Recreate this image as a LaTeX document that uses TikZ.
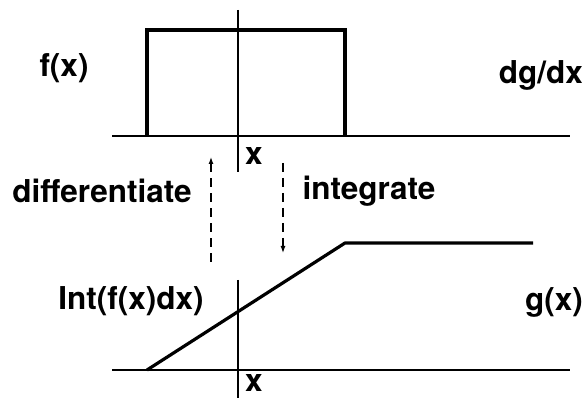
\documentclass[tikz,border=0pt]{standalone}
\usepackage{fontspec}
\setmainfont{TeX Gyre Heros}
\usetikzlibrary{arrows.meta}
\tikzset{
  lbl/.style={inner sep=0.75pt, font=\fontsize{31.5}{34}\selectfont\bfseries},
  axisline/.style={line width=1.6},
  curveline/.style={line width=3.2},
  flowarrow/.style={line width=1.2, dash pattern=on 9 off 6, -{Latex[length=7,width=5]}}
}
\begin{document}
\begin{tikzpicture}[x=1pt,y=1pt,yscale=-1,xscale=1]
\useasboundingbox (0,0) rectangle (584,398);

%Straight Lines: upper axes
\draw [axisline] (112,136) -- (570,136) ;
\draw [axisline] (238,10) -- (238,172) ;
%Shape: box f(x)
\draw [curveline] (147,136) -- (147,30) -- (345,30) -- (345,136) ;

%Straight Lines: lower axes
\draw [axisline] (112,370) -- (570,370) ;
\draw [axisline] (238,280) -- (238,398) ;
%Shape: ramp g(x)
\draw [curveline, line join=round] (147,370) -- (345,243) -- (533,243) ;

% Text Node
\node [lbl] (fx) at (64,68) {f(x)};
% Text Node
\node [lbl] (dgdx) at (541,75) {dg/dx};
% Text Node
\node [lbl] (xtop) at (254,156) {x};
% Text Node
\node [lbl] (diff) at (102,191) {differentiate};
% Text Node
\node [lbl] (integ) at (369,191) {integrate};
% Text Node
\node [lbl] (intf) at (131,301) {Int(f(x)dx)};
% Text Node
\node [lbl] (gx) at (554,302) {g(x)};
% Text Node
\node [lbl] (xbot) at (254,383) {x};

%Dashed arrows
\coordinate (dstart) at (211,262);
\coordinate (dend) at (211,157);
\coordinate (istart) at (283,163);
\coordinate (iend) at (283,253);
\draw [flowarrow] (dstart) -- (dend) ;
\draw [flowarrow] (istart) -- (iend) ;
\end{tikzpicture}
\end{document}
